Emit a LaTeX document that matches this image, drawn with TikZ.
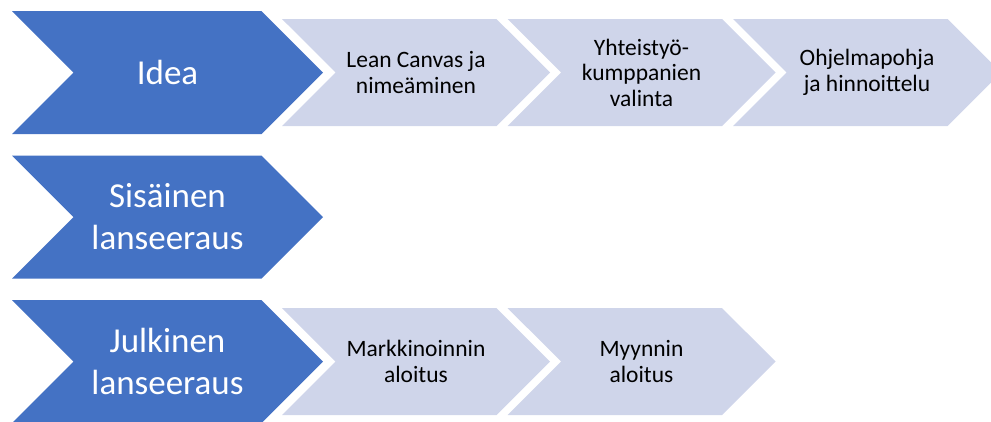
\documentclass[tikz,border=0pt]{standalone}
\usepackage{fontspec}
\setmainfont{Carlito}
\usetikzlibrary{shapes.symbols,positioning}
\definecolor{phaseblue}{HTML}{4472C4}
\definecolor{tasklight}{HTML}{CFD5EA}
\tikzstyle{PHASE} = [signal, signal from=west, signal to=east, signal pointer angle=90, fill=phaseblue, text=white, align=center, minimum width=311pt, minimum height=123pt, inner sep=0pt, outer sep=0pt, font=\fontsize{35}{42}\selectfont]
\tikzstyle{TASK} = [signal, signal from=west, signal to=east, signal pointer angle=90, fill=tasklight, text=black, align=center, minimum width=268pt, minimum height=107pt, inner sep=0pt, outer sep=0pt, font=\fontsize{23.5}{25.5}\selectfont]

\begin{document}
\begin{tikzpicture}[x=1pt, y=1pt, node distance=225.5pt]
\useasboundingbox (0,0) rectangle (991,-421);
% Phases
\node [PHASE] (idea) at (167.5,-72.5) {Idea};
\node [PHASE, node distance=144.5pt, below of=idea] (sisainen) {Sisäinen\\ lanseeraus};
\node [PHASE, node distance=144.5pt, below of=sisainen] (julkinen) {Julkinen\\ lanseeraus};
% Tasks of the idea phase
\node [TASK, right of=idea, xshift=23pt] (canvas) {Lean Canvas ja\\ nimeäminen};
\node [TASK, right of=canvas] (kumppanit) {Yhteistyö-\\ kumppanien\\ valinta};
\node [TASK, right of=kumppanit] (ohjelma) {Ohjelmapohja\\ ja hinnoittelu};
% Tasks of the public launch
\node [TASK, right of=julkinen, xshift=23pt] (markkinointi) {Markkinoinnin\\ aloitus};
\node [TASK, right of=markkinointi] (myynti) {Myynnin\\ aloitus};
\end{tikzpicture}
\end{document}
